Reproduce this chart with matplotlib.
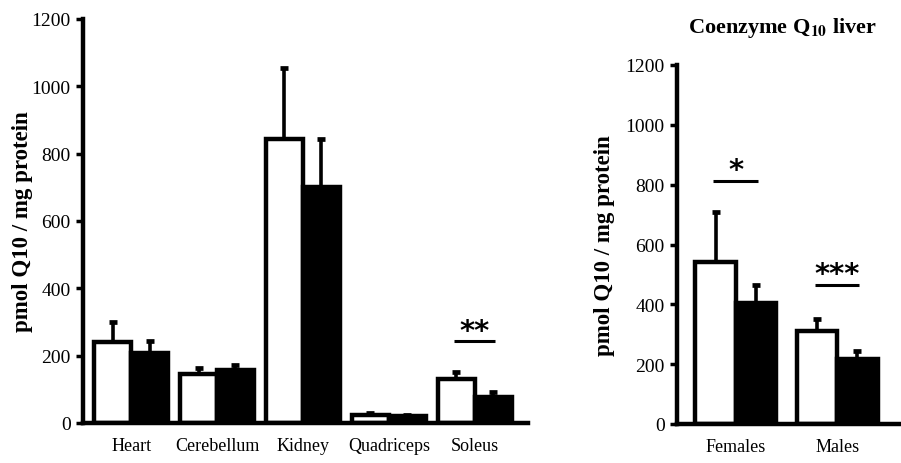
import numpy as np
import matplotlib.pyplot as plt

plt.rcParams['font.family'] = 'Liberation Serif'
plt.rcParams['mathtext.fontset'] = 'stix'

# tissue data
tissues = ['Heart', 'Cerebellum', 'Kidney', 'Quadriceps', 'Soleus']
white_vals = [240, 146, 843, 24, 131]
white_err = [60, 17, 211, 6, 20]
black_vals = [208, 157, 702, 20, 77]
black_err = [36, 15, 141, 3, 15]

# liver data
sexes = ['Females', 'Males']
liver_white = [540, 312]
liver_white_err = [167, 39]
liver_black = [403, 217]
liver_black_err = [61, 26]

# significance marks
tissue_sig = {4: ('**', 243)}
liver_sig = {0: ('*', 811), 1: ('***', 464)}

W, H = 901, 464
fig = plt.figure(figsize=(W / 100, H / 100), dpi=100)

def axes_px(x0, x1, y_top, y_bot):
    return fig.add_axes([x0 / W, 1 - y_bot / H, (x1 - x0) / W, (y_bot - y_top) / H])

def draw(ax, labels, wv, we, bv, be, width, sig):
    x = np.arange(len(labels))
    lw = 3.2
    ax.bar(x - width / 2, wv, width, color='white', edgecolor='black', linewidth=lw, zorder=2)
    ax.bar(x + width / 2, bv, width, color='black', edgecolor='black', linewidth=lw, zorder=2)
    ax.errorbar(x - width / 2, wv, yerr=[np.zeros(len(wv)), we], fmt='none', ecolor='black',
                elinewidth=2.6, capsize=3.2, capthick=3.4, zorder=1)
    ax.errorbar(x + width / 2, bv, yerr=[np.zeros(len(bv)), be], fmt='none', ecolor='black',
                elinewidth=2.6, capsize=3.2, capthick=3.4, zorder=1)
    for i, (stars, yv) in sig.items():
        ax.plot([i - width * 0.55, i + width * 0.55], [yv, yv], color='black', lw=2.2,
                solid_capstyle='butt')
        ax.text(i, yv - 10, stars, ha='center', va='bottom', fontsize=21,
                family='DejaVu Sans', fontweight='bold')
    ax.set_ylim(0, 1200)
    ax.set_yticks(np.arange(0, 1201, 200))
    ax.set_xticks(x)
    ax.set_xticklabels(labels, fontsize=13)
    ax.tick_params(axis='x', length=0, pad=10)
    ax.tick_params(axis='y', length=5, width=2.5, labelsize=14, pad=4)
    for s in ['top', 'right']:
        ax.spines[s].set_visible(False)
    for s in ['left', 'bottom']:
        ax.spines[s].set_linewidth(3.2)
    ax.set_ylabel('pmol Q10 / mg protein', fontsize=16.5, fontweight='bold')

ax1 = axes_px(83, 528, 20, 424)
draw(ax1, tissues, white_vals, white_err, black_vals, black_err, 0.43, tissue_sig)
ax1.set_xlim(-0.56, 4.62)
ax1.yaxis.set_label_coords(-0.112, 0.5)

ax2 = axes_px(677, 901, 66, 425)
draw(ax2, sexes, liver_white, liver_white_err, liver_black, liver_black_err, 0.4, liver_sig)
ax2.set_xlim(-0.58, 1.63)
ax2.yaxis.set_label_coords(-0.277, 0.5)
ax2.set_title(r'Coenzyme Q$_{\mathbf{10}}$ liver', fontsize=16, fontweight='bold', pad=24, x=0.47)

fig.savefig('out.png', dpi=100)
